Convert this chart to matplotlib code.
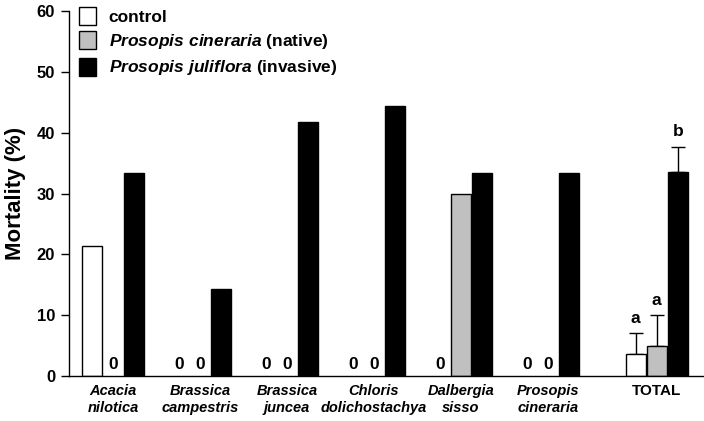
import matplotlib
matplotlib.use("Agg")
import matplotlib.pyplot as plt
import numpy as np
from matplotlib.patches import Patch

plt.rcParams['font.family'] = ['Liberation Sans', 'DejaVu Sans']
plt.rcParams['mathtext.fontset'] = 'custom'
plt.rcParams['mathtext.it'] = 'Liberation Sans:italic:bold'
plt.rcParams['mathtext.rm'] = 'Liberation Sans:bold'

groups = ["Acacia\nnilotica", "Brassica\ncampestris", "Brassica\njuncea",
          "Chloris\ndolichostachya", "Dalbergia\nsisso", "Prosopis\ncineraria", "TOTAL"]
control = [21.4, 0, 0, 0, 0, 0, 3.6]
native = [0, 0, 0, 0, 30.0, 0, 5.0]
invasive = [33.3, 14.3, 41.7, 44.4, 33.3, 33.3, 33.6]
total_err = [3.5, 5.0, 4.1]
total_letters = ["a", "a", "b"]
yticks = [0, 10, 20, 30, 40, 50, 60]

fig = plt.figure(figsize=(7.04, 4.21), dpi=100)
ax = fig.add_axes([69/704, 45/421, (704-69)/704, 365/421])

pos = np.array([0, 1, 2, 3, 4, 5, 6.25])
w = 0.23
off = 0.241
series = [(control, 'white', -off), (native, '#c0c0c0', 0), (invasive, 'black', off)]
for vals, col, o in series:
    for i, v in enumerate(vals):
        x = pos[i] + o
        if v > 0:
            ax.bar(x, v, width=w, color=col, edgecolor='black', linewidth=1.0, zorder=2)
        else:
            ax.text(x, 0.6, "0", ha='center', va='bottom', fontsize=12.5, fontweight='bold')

# error bars and letters for TOTAL
tot_vals = [control[-1], native[-1], invasive[-1]]
for (vals, col, o), v, e, lt in zip(series, tot_vals, total_err, total_letters):
    x = pos[-1] + o
    ax.errorbar(x, v, yerr=[[0], [e]], fmt='none', ecolor='black', elinewidth=1.0,
                capsize=5, capthick=1.0, zorder=1)
    ax.text(x, v + e + 1.2, lt, ha='center', va='bottom', fontsize=12.5, fontweight='bold')

ax.set_xlim(-0.506, 6.793)
ax.set_ylim(0, 60)
ax.spines['top'].set_visible(False)
ax.spines['right'].set_visible(False)
ax.spines['left'].set_linewidth(1.0)
ax.spines['bottom'].set_linewidth(1.0)
ax.set_yticks(yticks)
ax.set_yticklabels([str(t) for t in yticks], fontsize=12, fontweight='bold')
ax.tick_params(axis='y', length=6, width=1.0, pad=4)
ax.set_xticks(pos)
ax.set_xticklabels(groups)
for i, lab in enumerate(ax.get_xticklabels()):
    if i == len(groups) - 1:
        lab.set_fontsize(11)
        lab.set_fontstyle('normal')
        lab.set_fontweight('bold')
    else:
        lab.set_fontsize(10.5)
        lab.set_fontstyle('italic')
        lab.set_fontweight('bold')
ax.tick_params(axis='x', length=0, pad=6)
ax.set_ylabel("Mortality (%)", fontsize=16, fontweight='bold', labelpad=8)

handles = [Patch(facecolor='white', edgecolor='black'),
           Patch(facecolor='#c0c0c0', edgecolor='black'),
           Patch(facecolor='black', edgecolor='black')]
labels = ["control", r"$\mathit{Prosopis\ cineraria}$ (native)",
          r"$\mathit{Prosopis\ juliflora}$ (invasive)"]
leg = ax.legend(handles, labels, loc='upper left', bbox_to_anchor=(0.005, 1.03), frameon=False,
                prop={'size': 12.5, 'weight': 'bold'}, handlelength=1.0, handleheight=1.2,
                handletextpad=0.7, labelspacing=0.38, borderaxespad=0)
fig.savefig("out.png", dpi=100)
